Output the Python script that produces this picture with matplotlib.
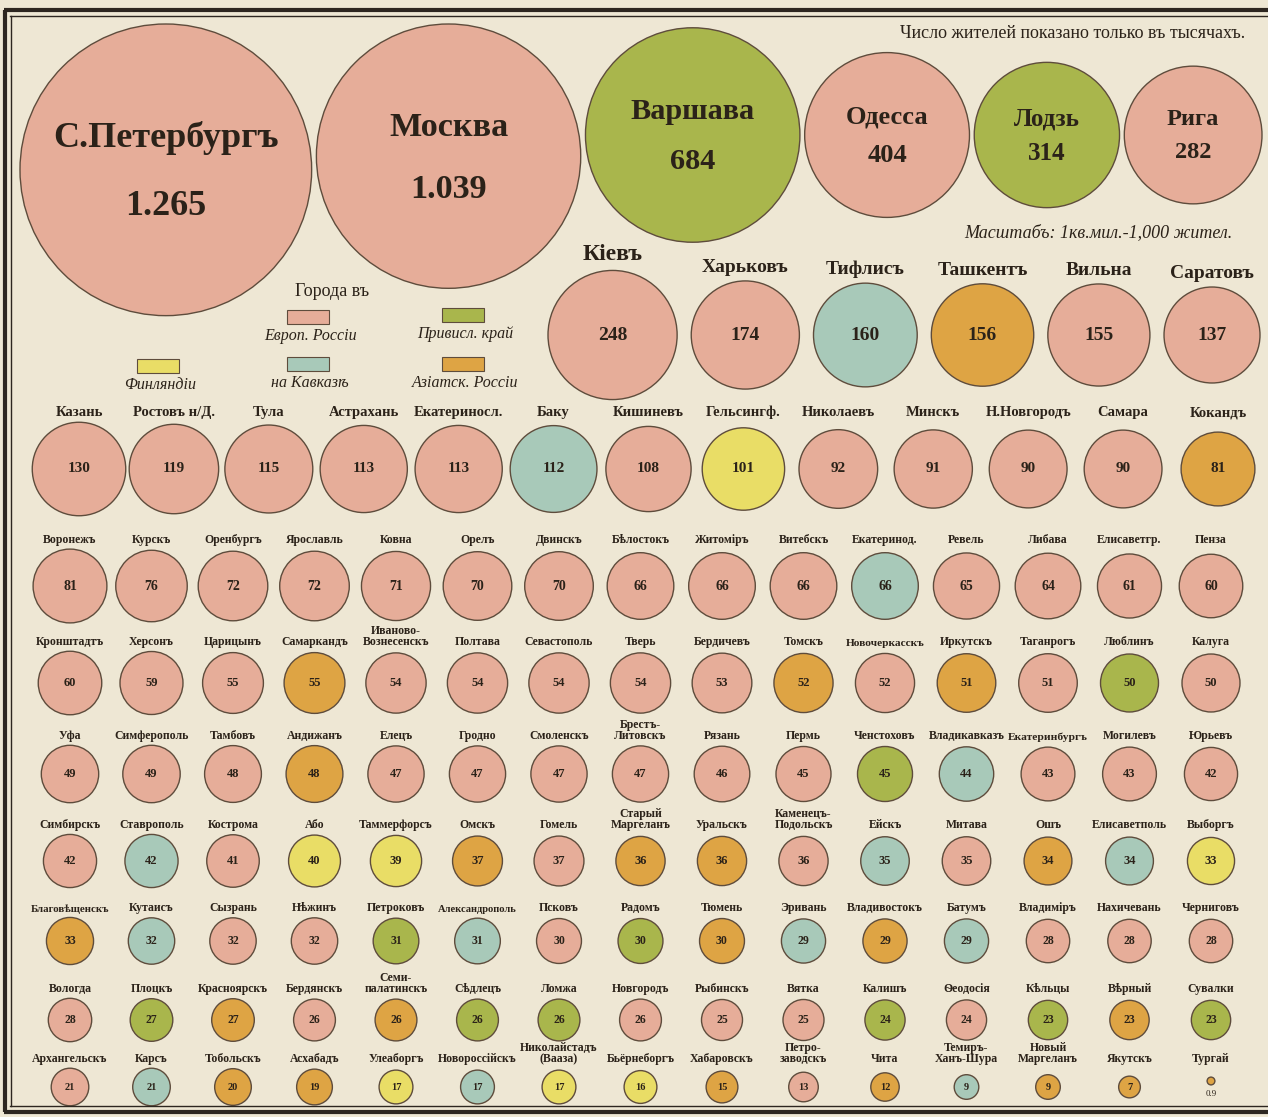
import numpy as np
import matplotlib
matplotlib.use('Agg')
import matplotlib.pyplot as plt
from matplotlib.patches import Circle, Rectangle

# Cities of the Russian Empire, population in thousands (1897)
# E = Europ. Russia, P = Privisl. krai, F = Finland, C = Caucasus, A = Asiatic Russia
row_sizes = [6, 6, 13, 15, 15, 15, 15, 15, 15, 15]

cities = [
    'С.Петербургъ', 'Москва', 'Варшава', 'Одесса', 'Лодзь', 'Рига',
    'Кіевъ', 'Харьковъ', 'Тифлисъ', 'Ташкентъ', 'Вильна', 'Саратовъ',
    'Казань', 'Ростовъ н/Д.', 'Тула', 'Астрахань', 'Екатериносл.', 'Баку', 'Кишиневъ',
    'Гельсингф.', 'Николаевъ', 'Минскъ', 'Н.Новгородъ', 'Самара', 'Кокандъ',
    'Воронежъ', 'Курскъ', 'Оренбургъ', 'Ярославль', 'Ковна', 'Орелъ', 'Двинскъ',
    'Бѣлостокъ', 'Житоміръ', 'Витебскъ', 'Екатеринод.', 'Ревель', 'Либава',
    'Елисаветгр.', 'Пенза',
    'Кронштадтъ', 'Херсонъ', 'Царицынъ', 'Самаркандъ', 'Иваново-\nВознесенскъ',
    'Полтава', 'Севастополь', 'Тверь', 'Бердичевъ', 'Томскъ', 'Новочеркасскъ',
    'Иркутскъ', 'Таганрогъ', 'Люблинъ', 'Калуга',
    'Уфа', 'Симферополь', 'Тамбовъ', 'Андижанъ', 'Елецъ', 'Гродно', 'Смоленскъ',
    'Брестъ-\nЛитовскъ', 'Рязань', 'Пермь', 'Ченстоховъ', 'Владикавказъ',
    'Екатеринбургъ', 'Могилевъ', 'Юрьевъ',
    'Симбирскъ', 'Ставрополь', 'Кострома', 'Або', 'Таммерфорсъ', 'Омскъ', 'Гомель',
    'Старый\nМаргеланъ', 'Уральскъ', 'Каменецъ-\nПодольскъ', 'Ейскъ', 'Митава',
    'Ошъ', 'Елисаветполь', 'Выборгъ',
    'Благовѣщенскъ', 'Кутаисъ', 'Сызрань', 'Нѣжинъ', 'Петроковъ', 'Александрополь',
    'Псковъ', 'Радомъ', 'Тюмень', 'Эривань', 'Владивостокъ', 'Батумъ', 'Владиміръ',
    'Нахичевань', 'Черниговъ',
    'Вологда', 'Плоцкъ', 'Красноярскъ', 'Бердянскъ', 'Семи-\nпалатинскъ', 'Сѣдлецъ',
    'Ломжа', 'Новгородъ', 'Рыбинскъ', 'Вятка', 'Калишъ', 'Ѳеодосія', 'Кѣльцы',
    'Вѣрный', 'Сувалки',
    'Архангельскъ', 'Карсъ', 'Тобольскъ', 'Асхабадъ', 'Улеаборгъ', 'Новороссійскъ',
    'Николайстадъ\n(Вааза)', 'Бьёрнеборгъ', 'Хабаровскъ', 'Петро-\nзаводскъ', 'Чита',
    'Темиръ-\nХанъ-Шура', 'Новый\nМаргеланъ', 'Якутскъ', 'Тургай',
]

population = [
    1265, 1039, 684, 404, 314, 282,
    248, 174, 160, 156, 155, 137,
    130, 119, 115, 113, 113, 112, 108, 101, 92, 91, 90, 90, 81,
    81, 76, 72, 72, 71, 70, 70, 66, 66, 66, 66, 65, 64, 61, 60,
    60, 59, 55, 55, 54, 54, 54, 54, 53, 52, 52, 51, 51, 50, 50,
    49, 49, 48, 48, 47, 47, 47, 47, 46, 45, 45, 44, 43, 43, 42,
    42, 42, 41, 40, 39, 37, 37, 36, 36, 36, 35, 35, 34, 34, 33,
    33, 32, 32, 32, 31, 31, 30, 30, 30, 29, 29, 29, 28, 28, 28,
    28, 27, 27, 26, 26, 26, 26, 26, 25, 25, 24, 24, 23, 23, 23,
    21, 21, 20, 19, 17, 17, 17, 16, 15, 13, 12, 9, 9, 7, 0.9,
]

region = list(
    'EEPEPE'
    'EECAEE'
    'EEEEECEFEEEEA'
    'EEEEEEEEEECEEEE'
    'EEEAEEEEEAEAEPE'
    'EEEAEEEEEEPCEEE'
    'ECEFFAEAAECEACF'
    'ACEEPCEPACACEEE'
    'EPAEAPPEEEPEPAP'
    'ECAAFCFFAEACAAA'
)

region_colors = {'E': '#e6ad99', 'P': '#a9b64c', 'F': '#e9dd66',
                 'C': '#a8c9b9', 'A': '#dea444'}
legend_items = [('E', 'Европ. Россіи'), ('P', 'Привисл. край'), ('F', 'Финляндіи'),
                ('C', 'на Кавказѣ'), ('A', 'Азіатск. Россіи')]

BG = '#eee7d4'
INK = '#2b2219'
EDGE = '#5e4c3c'
FONT = ['Liberation Serif', 'DejaVu Serif']
K = 4.1  # pixel radius per sqrt(thousand inhabitants)

fig = plt.figure(figsize=(12.68, 11.17), dpi=100, facecolor=BG)
ax = fig.add_axes([0, 0, 1, 1])
ax.set_facecolor(BG)
ax.set_xlim(0, 1268)
ax.set_ylim(1117, 0)
ax.set_aspect('equal')
ax.axis('off')

radius = K * np.sqrt(np.array(population, dtype=float))
starts = np.concatenate([[0], np.cumsum(row_sizes)[:-1]])

row_y = [None, 335, 469, 586, 683, 774, 861, 941, 1020, 1087]
value_fs = [None, 14, 11, 10, 9, 9, 9, 8.5, 8.5, 7.5]
name_fs = [None, 14, 10.5, 8.5, 8.5, 8.5, 8.5, 8.5, 8.5, 8.5]


def packed(r, left, right):
    gap = ((right - left) - 2 * r.sum()) / (len(r) - 1)
    xs, cur = [], left
    for rr in r:
        xs.append(cur + rr)
        cur += 2 * rr + gap
    return np.array(xs)


def fmt(v):
    if v >= 1000:
        return f'{int(v) // 1000}.{int(v) % 1000:03d}'
    return str(int(v)) if v >= 1 else str(v)


name_texts = []
for row, (s, n) in enumerate(zip(starts, row_sizes)):
    idx = np.arange(s, s + n)
    r = radius[idx]
    if row == 0:
        xs = packed(r, 20, 1262)
        ys = np.maximum(135, 24 + r)
    elif row == 1:
        xs = packed(r, 548, 1260)
        ys = np.full(n, row_y[row])
    elif row == 2:
        xs = np.linspace(79, 1218, n)
        ys = np.full(n, row_y[row])
    else:
        xs = np.linspace(70, 1211, n)
        ys = np.full(n, row_y[row])
    spacing = None if row < 2 else xs[1] - xs[0]

    for k, i in enumerate(idx):
        x, y, rr = xs[k], ys[k], r[k]
        small = population[i] < 1
        cy = y - 6 if small else y
        ax.add_patch(Circle((x, cy), rr, facecolor=region_colors[region[i]],
                            edgecolor=EDGE, linewidth=1.0, zorder=2))
        if row == 0:
            fs = 10 + rr * 0.11
            ax.text(x, y - 0.22 * rr, cities[i], ha='center', va='center',
                    fontsize=fs, fontweight='bold', family=FONT, color=INK, zorder=3)
            ax.text(x, y + 0.25 * rr, fmt(population[i]), ha='center', va='center',
                    fontsize=fs, fontweight='bold', family=FONT, color=INK, zorder=3)
            continue
        if small:
            ax.text(x, y + 7, fmt(population[i]), ha='center', va='center',
                    fontsize=6.5, family=FONT, color=INK, zorder=3)
        else:
            ax.text(x, y, fmt(population[i]), ha='center', va='center',
                    fontsize=value_fs[row], fontweight='bold', family=FONT,
                    color=INK, zorder=3)
        if row == 1:
            ly = y - rr - 5
            fs = 17 if k == 0 else name_fs[row]
        else:
            ly = y - r.max() - 3
            fs = name_fs[row]
        t = ax.text(x, ly, cities[i], ha='center', va='bottom', fontsize=fs,
                    fontweight='bold', family=FONT, color=INK, linespacing=0.9,
                    zorder=3)
        name_texts.append((t, spacing))

# shrink labels that are wider than their slot
fig.canvas.draw()
renderer = fig.canvas.get_renderer()
for t, spacing in name_texts:
    if spacing is None:
        continue
    w = t.get_window_extent(renderer).width
    if w > spacing - 3:
        t.set_fontsize(t.get_fontsize() * (spacing - 3) / w)

# notes
ax.text(1245, 33, 'Число жителей показано только въ тысячахъ.', ha='right',
        va='center', fontsize=13, family=FONT, color=INK)
ax.text(1232, 233, 'Масштабъ: 1кв.мил.-1,000 жител.', ha='right', va='center',
        fontsize=13, style='italic', family=FONT, color=INK)

# legend
ax.text(332, 291, 'Города въ', ha='center', va='center', fontsize=13,
        family=FONT, color=INK)
legend_pos = [(308, 317), (463, 315), (158, 366), (308, 364), (463, 364)]
for (code, label), (lx, ly) in zip(legend_items, legend_pos):
    ax.add_patch(Rectangle((lx - 21, ly - 7), 42, 14, facecolor=region_colors[code],
                           edgecolor=EDGE, linewidth=0.8))
    ax.text(lx + 2, ly + 19, label, ha='center', va='center', fontsize=11.5,
            style='italic', family=FONT, color=INK)

# double frame
ax.plot([4, 1268], [10, 10], color='#2d2620', lw=3, solid_capstyle='butt')
ax.plot([10, 1268], [16, 16], color='#2d2620', lw=1)
ax.plot([5, 5], [10, 1112], color='#2d2620', lw=3, solid_capstyle='butt')
ax.plot([11, 11], [16, 1106], color='#2d2620', lw=1)
ax.plot([4, 1268], [1112, 1112], color='#2d2620', lw=3, solid_capstyle='butt')
ax.plot([10, 1268], [1106, 1106], color='#2d2620', lw=1)

fig.savefig('out.png', dpi=100, facecolor=BG)
